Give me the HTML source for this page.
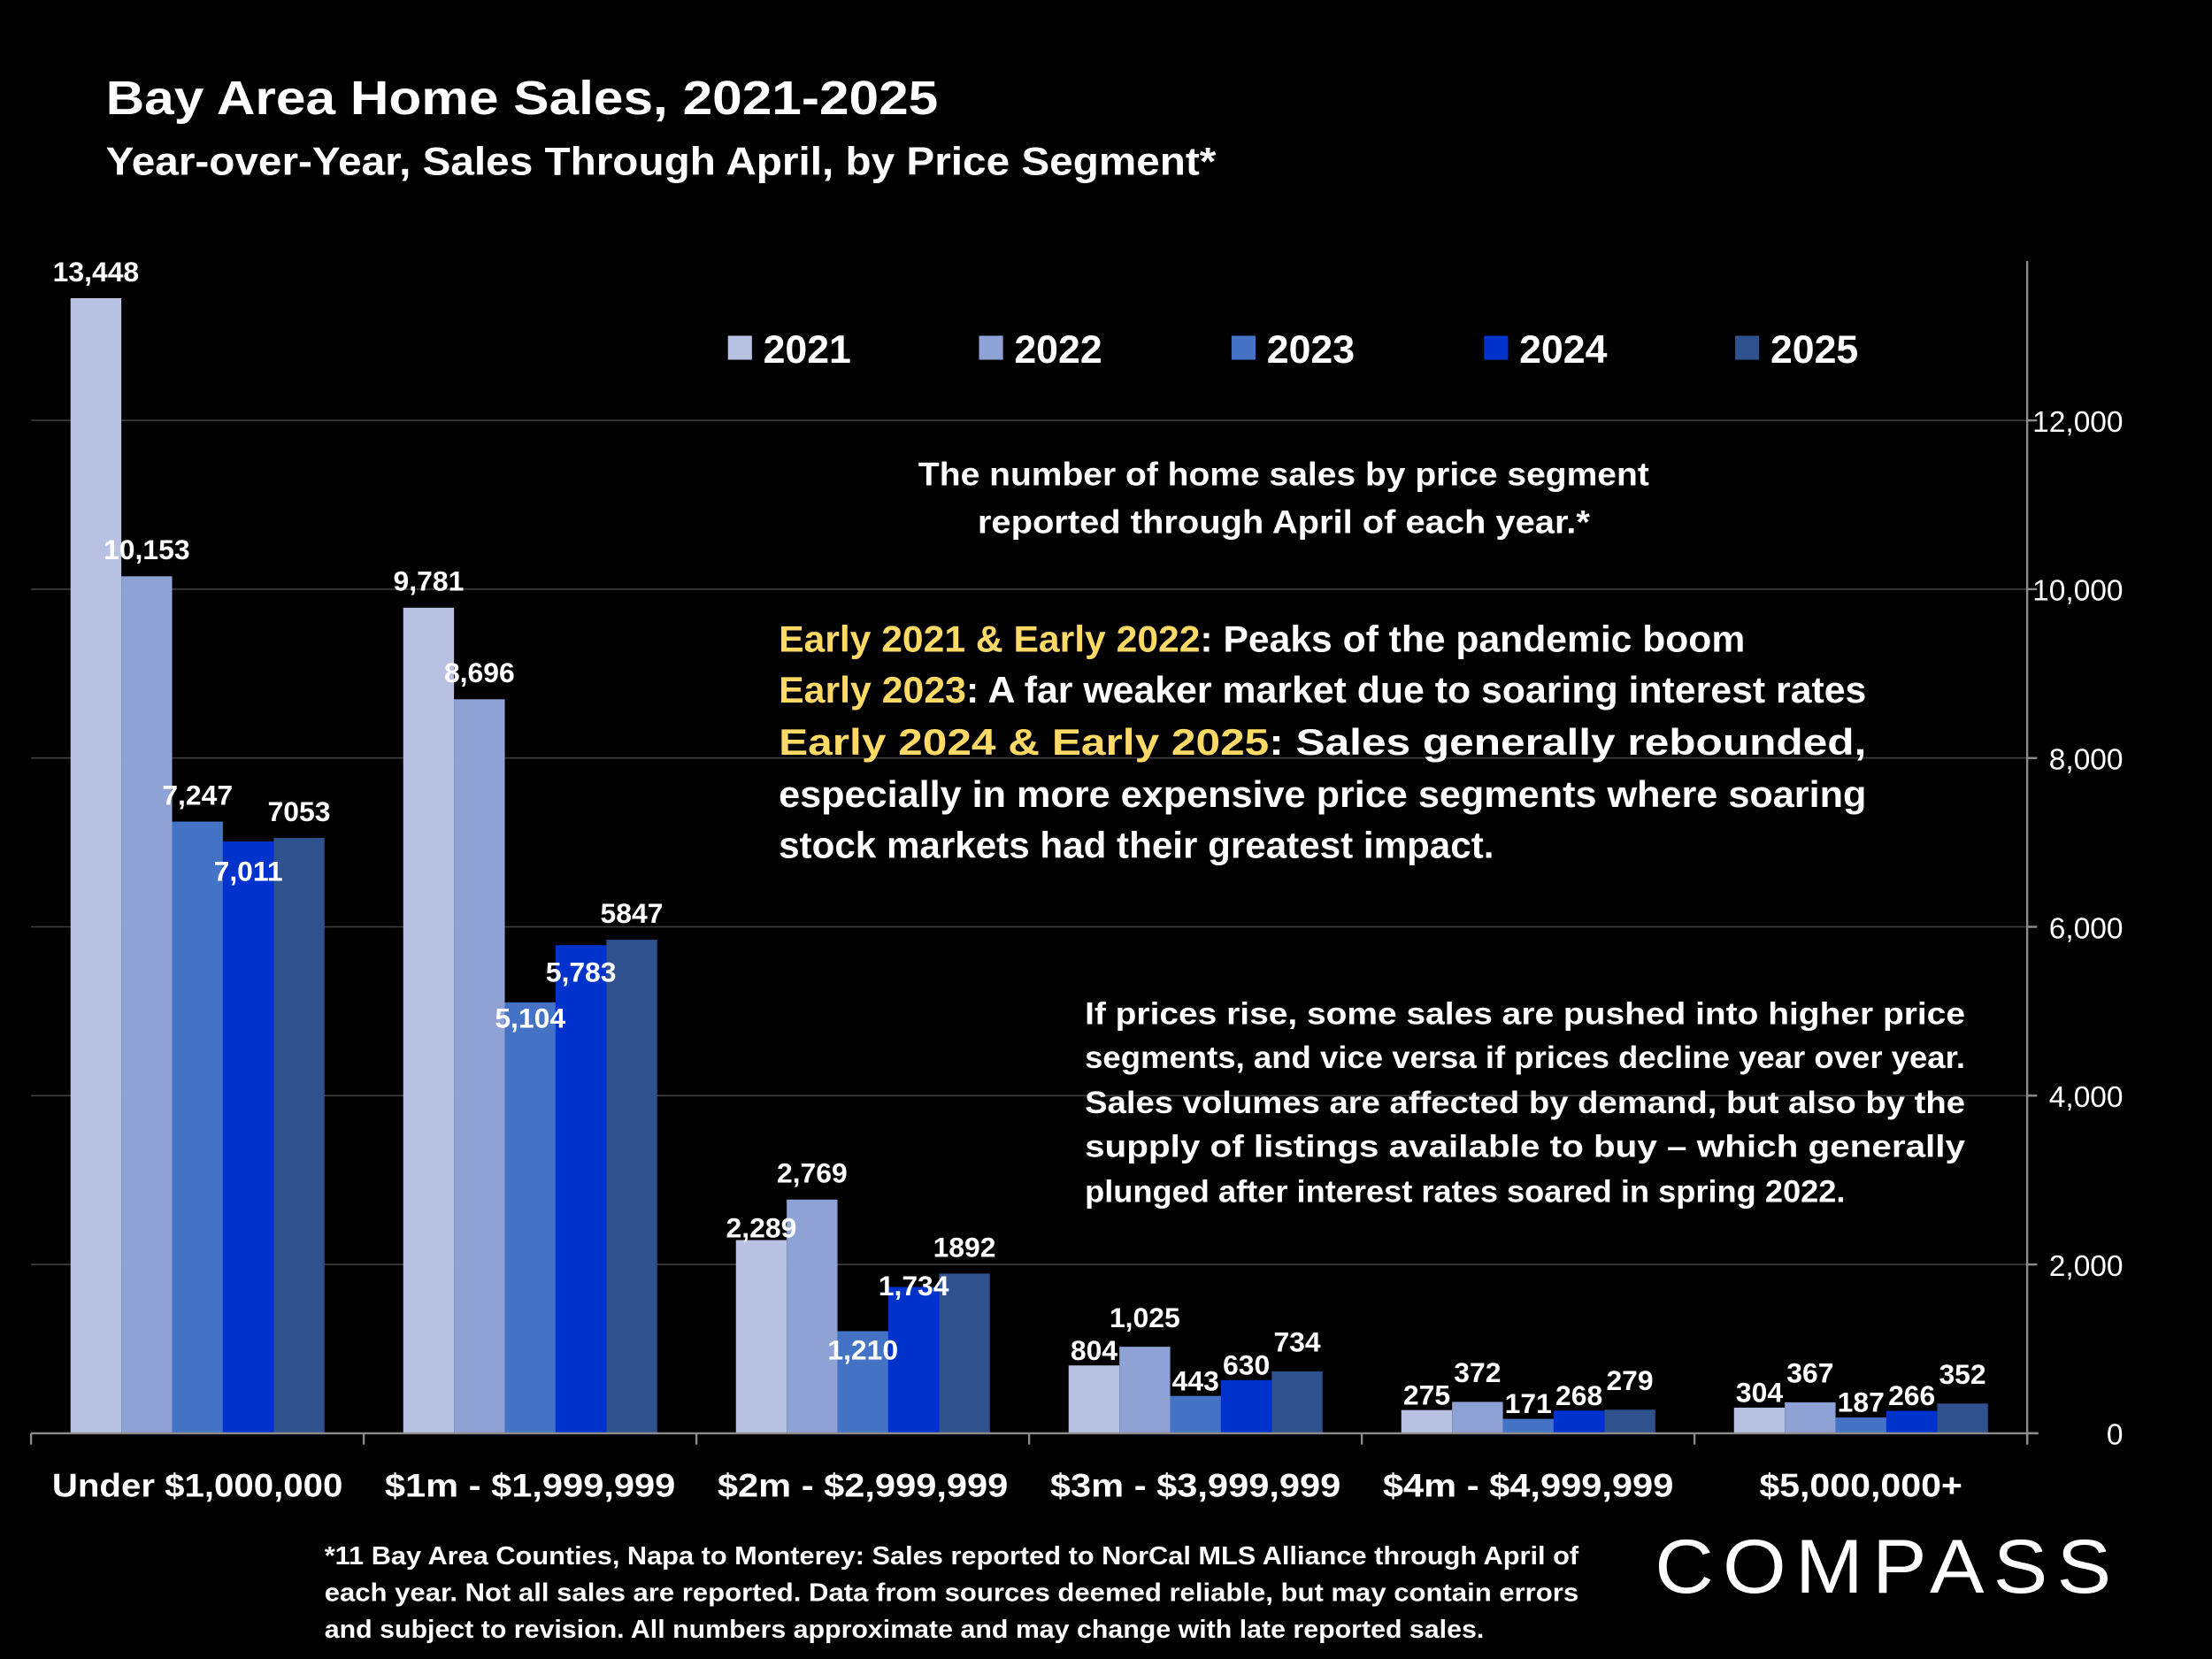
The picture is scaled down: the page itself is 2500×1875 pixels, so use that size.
<!DOCTYPE html>
<html><head><meta charset="utf-8">
<style>
html,body{margin:0;padding:0;background:#000;}
svg{display:block;}
text{font-family:"Liberation Sans",sans-serif;font-weight:bold;fill:#fff;}
</style></head>
<body>
<svg id="chart" width="2500" height="1875" viewBox="0 0 1568 1176" xmlns="http://www.w3.org/2000/svg">
<rect x="0" y="0" width="1568" height="1176" fill="#000"/>
<text x="75" y="81" font-size="34" textLength="590" lengthAdjust="spacingAndGlyphs">Bay Area Home Sales, 2021-2025</text>
<text x="75" y="124" font-size="28" textLength="787" lengthAdjust="spacingAndGlyphs">Year-over-Year, Sales Through April, by Price Segment*</text>
<g id="grid"></g>
<g id="bars"></g>
<g id="labels"></g>
<g id="axes"></g>
<g id="legend"></g>
<g font-size="23">
<text x="910" y="344" text-anchor="middle" textLength="518" lengthAdjust="spacingAndGlyphs">The number of home sales by price segment</text>
<text x="910" y="378" text-anchor="middle" textLength="434" lengthAdjust="spacingAndGlyphs">reported through April of each year.*</text>
</g>
<g font-size="26">
<text x="552" y="462" textLength="685" lengthAdjust="spacingAndGlyphs"><tspan fill="#ffd966">Early 2021 &amp; Early 2022</tspan>:  Peaks of the pandemic boom</text>
<text x="552" y="498" textLength="771" lengthAdjust="spacingAndGlyphs"><tspan fill="#ffd966">Early 2023</tspan>:  A far weaker market due to soaring interest rates</text>
<text x="552" y="535" textLength="771" lengthAdjust="spacingAndGlyphs"><tspan fill="#ffd966">Early 2024 &amp; Early 2025</tspan>:  Sales generally rebounded,</text>
<text x="552" y="572" textLength="771" lengthAdjust="spacingAndGlyphs">especially in more expensive price segments where soaring</text>
<text x="552" y="608" textLength="507" lengthAdjust="spacingAndGlyphs">stock markets had their greatest impact.</text>
</g>
<g font-size="22">
<text x="769" y="726" textLength="624" lengthAdjust="spacingAndGlyphs">If prices rise, some sales are pushed into higher price</text>
<text x="769" y="757" textLength="624" lengthAdjust="spacingAndGlyphs">segments, and vice versa if prices decline year over year.</text>
<text x="769" y="789" textLength="624" lengthAdjust="spacingAndGlyphs">Sales volumes are affected by demand, but also by the</text>
<text x="769" y="820" textLength="624" lengthAdjust="spacingAndGlyphs">supply of listings available to buy – which generally</text>
<text x="769" y="852" textLength="539" lengthAdjust="spacingAndGlyphs">plunged after interest rates soared in spring 2022.</text>
</g>
<g font-size="18">
<text x="230" y="1109" textLength="889" lengthAdjust="spacingAndGlyphs">*11 Bay Area Counties, Napa to Monterey:  Sales reported to NorCal MLS Alliance through April of</text>
<text x="230" y="1135" textLength="889" lengthAdjust="spacingAndGlyphs">each year. Not all sales are reported. Data from sources deemed reliable, but may contain errors</text>
<text x="230" y="1161" textLength="822" lengthAdjust="spacingAndGlyphs">and subject to revision. All numbers approximate and may change with late reported sales.</text>
</g>
<g>
<text x="1173" y="1129" font-size="54" style="font-weight:normal" textLength="330" lengthAdjust="spacingAndGlyphs" letter-spacing="6">COMPASS</text>
</g>
</svg>
<script>
const categories = ["Under $1,000,000","$1m - $1,999,999","$2m - $2,999,999","$3m - $3,999,999","$4m - $4,999,999","$5,000,000+"];
const years = ["2021","2022","2023","2024","2025"];
const s2021 = [13448, 9781, 2289, 804, 275, 304];
const s2022 = [10153, 8696, 2769, 1025, 372, 367];
const s2023 = [7247, 5104, 1210, 443, 171, 187];
const s2024 = [7011, 5783, 1734, 630, 268, 266];
const s2025 = [7053, 5847, 1892, 734, 279, 352];
const lbl2021 = ["13,448","9,781","2,289","804","275","304"];
const lbl2022 = ["10,153","8,696","2,769","1,025","372","367"];
const lbl2023 = ["7,247","5,104","1,210","443","171","187"];
const lbl2024 = ["7,011","5,783","1,734","630","268","266"];
const lbl2025 = ["7053","5847","1892","734","279","352"];
const yTicks = [0, 2000, 4000, 6000, 8000, 10000, 12000];
const yTickLabels = ["0","2,000","4,000","6,000","8,000","10,000","12,000"];

const NS = "http://www.w3.org/2000/svg";
const series = [s2021, s2022, s2023, s2024, s2025];
const labels = [lbl2021, lbl2022, lbl2023, lbl2024, lbl2025];
const colors = ["#b8c1e1","#8ea2d6","#4472c4","#0033cc","#2f528f"];
const X0 = 22, X1 = 1437, Y0 = 1016, YPER = (1016 - 298) / 12000;
const catW = (X1 - X0) / categories.length;
const barW = 36, groupOff = 28;
function yScale(v){ return Y0 - v * YPER; }
function xBar(ci, si){ return X0 + ci * catW + groupOff + si * barW; }
function mk(tag, attrs, parent){ const e = document.createElementNS(NS, tag); for (const k in attrs) e.setAttribute(k, attrs[k]); parent.appendChild(e); return e; }

const grid = document.getElementById('grid');
yTicks.forEach((t, i) => {
  if (t === 0) return;
  const l = mk('line', {x1: X0, x2: X1, y1: yScale(t), y2: yScale(t), stroke: '#3f3f3f', 'stroke-width': 1}, grid);
  
  
});

const bars = document.getElementById('bars');
const lab = document.getElementById('labels');
series.forEach((arr, si) => {
  arr.forEach((v, ci) => {
    const x = xBar(ci, si), y = yScale(v);
    const r = mk('rect', {x: x, y: y, width: barW, height: Y0 - y, fill: colors[si]}, bars);
    
    
    let ly = y - 12;
    const prev = si > 0 ? series[si-1][ci] : 0;
    if (si === 3 && v < prev && v < series[4][ci]) ly = y + 28;
    if (si === 2 && ci === 1) ly = y + 18;
    if (si === 2 && ci === 2) ly = y + 20;
    if (si === 3 && ci === 1) ly = y + 26;
    if (si === 3 && ci === 2) ly = y + 6;
    if (si === 0 && ci === 2) ly = y - 2;
    if (ci >= 3) { ly = y - 4; if (si===1 || si===4) ly = y - 14; }
    const t = mk('text', {x: x + barW/2, y: ly, 'text-anchor': 'middle', 'font-size': 20}, lab);
    t.textContent = labels[si][ci];
    
    
  });
});

const axes = document.getElementById('axes');
mk('line', {x1: X0, x2: X1 + 8, y1: Y0, y2: Y0, stroke: '#8c8c8c', 'stroke-width': 1.5}, axes);
mk('line', {x1: X1, x2: X1, y1: 185, y2: Y0 + 8, stroke: '#8c8c8c', 'stroke-width': 1.5}, axes);
for (let i = 0; i <= categories.length; i++) {
  mk('line', {x1: X0 + i*catW, x2: X0 + i*catW, y1: Y0, y2: Y0 + 8, stroke: '#8c8c8c', 'stroke-width': 1.5}, axes);
}
yTicks.forEach((t, i) => {
  mk('line', {x1: X1, x2: X1 + 7, y1: yScale(t), y2: yScale(t), stroke: '#8c8c8c', 'stroke-width': 1.5}, axes);
  const tx = mk('text', {x: 1505, y: yScale(t) + 8, 'text-anchor': 'end', 'font-size': 21, style: 'font-weight:normal'}, axes);
  tx.textContent = yTickLabels[i];
  
  
});
categories.forEach((c, i) => {
  const tx = mk('text', {x: X0 + (i + 0.5)*catW, y: 1061, 'text-anchor': 'middle', 'font-size': 23, textLength: 206, lengthAdjust: 'spacingAndGlyphs'}, axes);
  if (i === 5) tx.setAttribute('textLength', 144);
  tx.textContent = c;
  
  
});

const leg = document.getElementById('legend');
const legX = [516, 694, 873, 1052, 1230];
years.forEach((yr, i) => {
  const r = mk('rect', {x: legX[i], y: 238, width: 17, height: 17, fill: colors[i]}, leg);
  
  
  const t = mk('text', {x: legX[i] + 25, y: 257, 'font-size': 28}, leg);
  t.textContent = yr;
  
  
});
</script>
</body></html>
